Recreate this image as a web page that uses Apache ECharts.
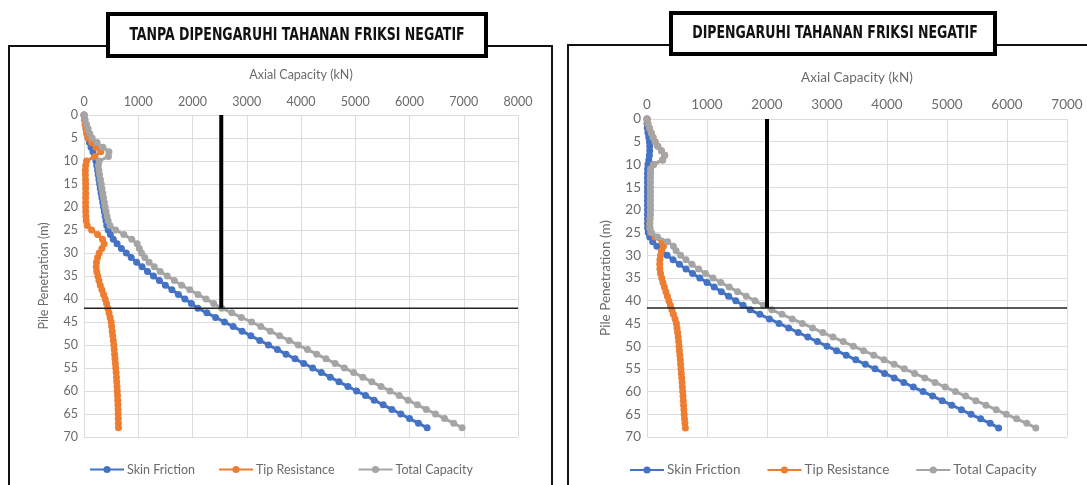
<!DOCTYPE html>
<html>
<head>
<meta charset="utf-8">
<style>
  html, body { margin: 0; padding: 0; background: #fff; }
  #chart { width: 1087px; height: 485px; }
</style>
<script src="https://cdn.jsdelivr.net/npm/echarts@6/dist/echarts.min.js"></script>
</head>
<body>
<div id="chart"></div>
<script>
// kedalaman tiang (m)
const depth = [0,1,2,3,4,5,6,7,8,9,10,11,12,13,14,15,16,17,18,19,20,21,22,23,24,25,26,27,28,29,30,31,32,33,34,35,36,37,38,39,40,41,42,43,44,45,46,47,48,49,50,51,52,53,54,55,56,57,58,59,60,61,62,63,64,65,66,67,68];

// kiri: tanpa friksi negatif (kN)
const skinA = [0,10,25,40,55,75,100,130,165,195,220,235,250,262,275,288,300,315,330,345,360,375,390,405,420,445,485,540,610,690,780,870,970,1070,1170,1280,1390,1500,1620,1740,1860,1980,2100,2265,2425,2590,2750,2915,3075,3240,3400,3565,3725,3890,4050,4215,4375,4540,4700,4865,5025,5190,5350,5515,5675,5840,6000,6165,6325];
const tipA = [0,10,20,35,50,75,140,220,310,200,45,30,25,25,28,30,30,32,30,30,30,32,35,40,60,140,250,340,370,330,280,250,230,225,235,255,275,300,330,360,390,415,440,460,480,500,510,520,530,540,550,557,564,571,578,585,592,598,603,608,613,618,622,625,628,630,632,634,636];
const totalA = [0,20,45,75,105,150,240,350,460,450,280,265,275,287,303,318,330,347,360,375,390,407,425,445,480,585,735,880,980,1020,1060,1120,1200,1295,1405,1535,1665,1800,1950,2100,2250,2390,2540,2725,2900,3090,3260,3435,3605,3780,3950,4120,4290,4460,4630,4800,4970,5140,5305,5475,5640,5810,5975,6145,6310,6480,6645,6815,6970];

// kanan: dipengaruhi friksi negatif (kN)
const skinB = [0,0,5,15,30,40,45,45,40,30,15,10,8,8,8,8,8,8,8,8,8,8,8,8,10,20,45,95,165,245,335,435,540,650,760,880,1000,1120,1240,1360,1480,1600,1720,1880,2040,2200,2360,2520,2680,2840,3000,3160,3320,3480,3640,3800,3960,4120,4280,4440,4600,4760,4920,5080,5240,5400,5560,5720,5860];
const tipB = [0,15,40,70,100,135,180,240,295,260,110,60,56,55,55,55,55,55,55,55,55,55,50,46,48,60,130,250,275,240,225,215,212,215,225,245,265,290,315,340,365,390,415,440,468,490,500,510,520,528,534,540,548,555,560,566,572,578,585,590,595,600,605,610,615,620,625,632,640];
const totalB = [0,15,40,70,100,135,180,240,295,260,110,60,56,55,55,55,55,55,55,55,55,55,50,46,48,75,175,345,440,485,560,650,750,860,975,1100,1230,1370,1510,1655,1800,1940,2080,2250,2420,2590,2760,2930,3100,3270,3440,3610,3780,3950,4120,4290,4460,4630,4800,4970,5140,5310,5480,5650,5820,5990,6160,6330,6480];

// garis batas: beban rencana (kN) dan kedalaman (m)
const designLoad = [2530, 2000];
const limitDepth = [42, 41.6];
const xMax = [8000, 7000];

const titles = ['TANPA DIPENGARUHI TAHANAN FRIKSI NEGATIF', 'DIPENGARUHI TAHANAN FRIKSI NEGATIF'];
const seriesNames = ['Skin Friction', 'Tip Resistance', 'Total Capacity'];
const colors = ['#4472C4', '#ED7D31', '#A5A5A5'];

const grids = [
    { left: 84, top: 115, width: 434, height: 322 },
    { left: 647, top: 119, width: 420, height: 318 }
];
const fontSizes = [12.5, 13.5];
const txt = '#6b6b6b';
const fam = 'Lato, "Open Sans", sans-serif';

const sets = [[skinA, tipA, totalA], [skinB, tipB, totalB]];

const pairs = (xs) => xs.map((v, i) => [v, depth[i]]);

const xAxis = [], yAxis = [], series = [], legend = [];
grids.forEach((g, k) => {
    xAxis.push({
        type: 'value', gridIndex: k, position: 'top', min: 0, max: xMax[k], interval: 1000,
        name: 'Axial Capacity (kN)', nameLocation: 'middle', nameGap: 34,
        nameTextStyle: { color: txt, fontSize: fontSizes[k], fontFamily: fam },
        axisLabel: { color: txt, fontSize: fontSizes[k], fontFamily: fam, margin: 7, formatter: v => String(v) },
        axisLine: { show: false }, axisTick: { show: false },
        splitLine: { show: true, lineStyle: { color: '#dcdcdc', width: 1 } }
    });
    yAxis.push({
        type: 'value', gridIndex: k, inverse: true, min: 0, max: 70, interval: 5,
        name: 'Pile Penetration (m)', nameLocation: 'middle', nameGap: 34, nameRotate: 90,
        nameTextStyle: { color: txt, fontSize: fontSizes[k], fontFamily: fam },
        axisLabel: { color: txt, fontSize: fontSizes[k], fontFamily: fam, margin: 6 },
        axisLine: { show: true, lineStyle: { color: '#dcdcdc' } }, axisTick: { show: false },
        splitLine: { show: true, lineStyle: { color: '#dcdcdc', width: 1 } }
    });
    sets[k].forEach((vals, s) => {
        series.push({
            name: seriesNames[s], type: 'line', xAxisIndex: k, yAxisIndex: k,
            data: pairs(vals), symbol: 'circle', symbolSize: 7,
            lineStyle: { color: colors[s], width: 3 },
            itemStyle: { color: colors[s] },
            animation: false, z: 3 + s
        });
    });
    // garis beban rencana & kedalaman
    series.push({
        type: 'line', xAxisIndex: k, yAxisIndex: k, symbol: 'none', silent: true, animation: false,
        data: [[designLoad[k], 0], [designLoad[k], limitDepth[k]]],
        lineStyle: { color: '#000', width: 4 }, z: 8
    });
    series.push({
        type: 'line', xAxisIndex: k, yAxisIndex: k, symbol: 'none', silent: true, animation: false,
        data: [[0, limitDepth[k]], [xMax[k], limitDepth[k]]],
        lineStyle: { color: '#222', width: 1.5 }, z: 8
    });
    legend.push({
        data: seriesNames, left: k === 0 ? 84 : 624, top: 458,
        itemWidth: 34, itemHeight: 9, itemGap: k === 0 ? 23 : 26,
        textStyle: { color: txt, fontSize: fontSizes[k], fontFamily: fam, padding: [0, 0, 0, -2] },
        selectedMode: false
    });
});

const graphic = [
    { type: 'rect', shape: { x: 9, y: 46, width: 543, height: 470 }, style: { fill: 'none', stroke: '#111', lineWidth: 2 }, z: 100 },
    { type: 'rect', shape: { x: 568, y: 45, width: 540, height: 470 }, style: { fill: 'none', stroke: '#111', lineWidth: 2 }, z: 100 },
    { type: 'rect', shape: { x: 108, y: 14, width: 378, height: 42 }, style: { fill: '#fff', stroke: '#000', lineWidth: 4 }, z: 101 },
    { type: 'rect', shape: { x: 671, y: 13, width: 324, height: 41 }, style: { fill: '#fff', stroke: '#000', lineWidth: 4 }, z: 101 },
    { type: 'text', x: 297, y: 36, scaleX: 0.82, z: 102,
      style: { text: titles[0], fill: '#111', font: 'bold 17px "DejaVu Sans Condensed", "DejaVu Sans", sans-serif', textAlign: 'center', textVerticalAlign: 'middle' } },
    { type: 'text', x: 835, y: 34, scaleX: 0.82, z: 102,
      style: { text: titles[1], fill: '#111', font: 'bold 17px "DejaVu Sans Condensed", "DejaVu Sans", sans-serif', textAlign: 'center', textVerticalAlign: 'middle' } }
];

const chart = echarts.init(document.getElementById('chart'), null, { renderer: 'canvas' });
chart.setOption({
    backgroundColor: '#fff',
    animation: false,
    grid: grids.map(g => Object.assign({ containLabel: false }, g)),
    xAxis, yAxis, series, legend, graphic
});
</script>
</body>
</html>
